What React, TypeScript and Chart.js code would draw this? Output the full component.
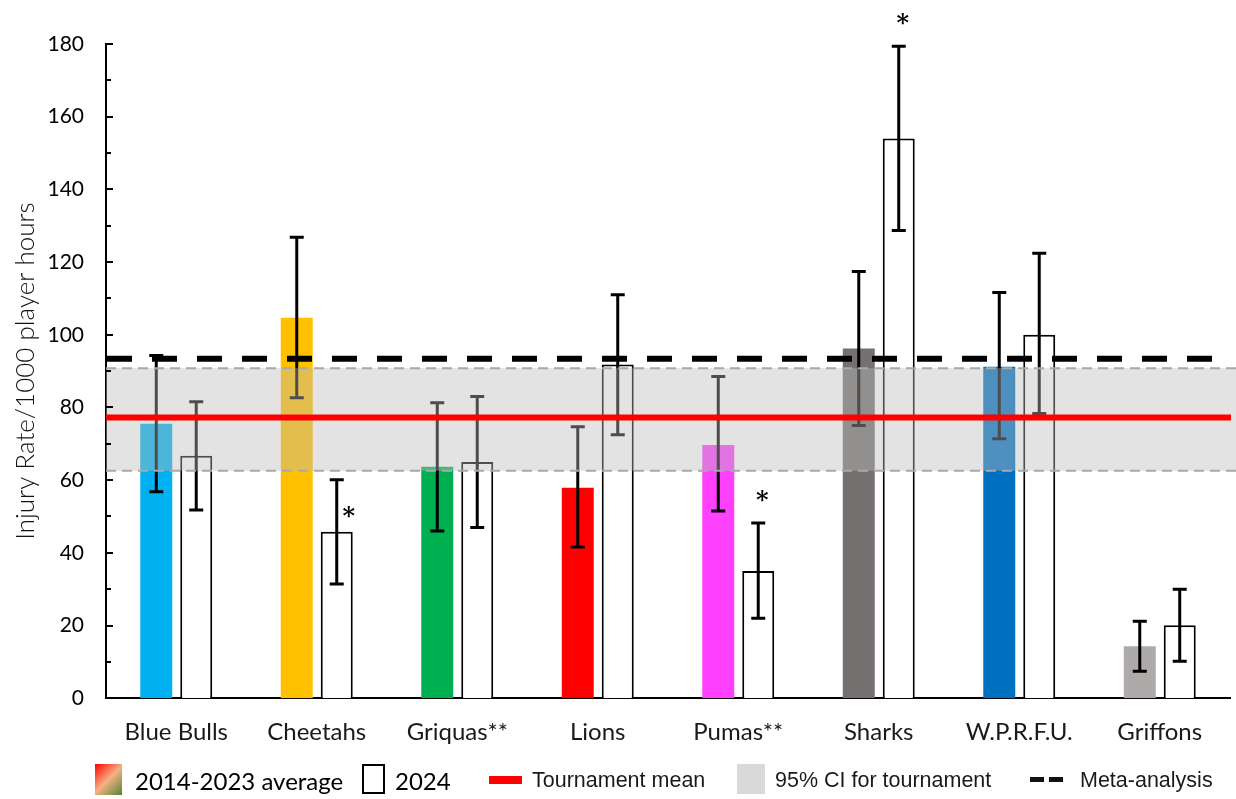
import React, { useEffect, useRef } from "react";
import { Chart, registerables } from "chart.js";

Chart.register(...registerables);

// Teams on the x axis
const teams = ["Blue Bulls", "Cheetahs", "Griquas**", "Lions", "Pumas**", "Sharks", "W.P.R.F.U.", "Griffons"];

// 2014-2023 average injury rate with 95% CI
const avgRates = [75.5, 104.7, 63.7, 57.9, 69.7, 96.2, 91.2, 14.3];
const avgLow = [56.8, 82.7, 46.0, 41.6, 51.5, 75.0, 71.4, 7.4];
const avgHigh = [94.3, 126.8, 81.3, 74.7, 88.5, 117.4, 111.6, 21.2];
const avgColors = ["#00b0f0", "#ffc000", "#00b050", "#ff0000", "#ff40ff", "#767171", "#0070c0", "#aeaaaa"];

// 2024 season injury rate with 95% CI
const rates2024 = [66.7, 45.8, 65.0, 91.8, 35.0, 154.0, 100.0, 20.1];
const low2024 = [51.8, 31.4, 47.0, 72.5, 22.0, 128.7, 78.3, 10.2];
const high2024 = [81.6, 60.1, 83.0, 111.0, 48.2, 179.4, 122.4, 30.0];

// Significant differences in 2024
const significance2024 = ["", "*", "", "", "*", "*", "", ""];

// Reference levels
const tournamentMean = 77.2;
const tournamentCiLow = 62.6;
const tournamentCiHigh = 90.8;
const metaAnalysisRate = 93.4;

// Y axis range
const yMin = 0;
const yMax = 180;
const yStep = 20;

const AXIS_FONT = "Lato, 'Open Sans', sans-serif";
const LEGEND_FONT = "'Liberation Sans', Arial, sans-serif";

const overlayPlugin = {
  id: "overlays",
  afterDatasetsDraw(chart: any) {
    const { ctx, chartArea } = chart;
    const y = chart.scales.y;
    const left = chartArea.left;

    // error bars
    const ranges = [
      [avgLow, avgHigh],
      [low2024, high2024],
    ];
    ranges.forEach(([lo, hi], di) => {
      const meta = chart.getDatasetMeta(di);
      meta.data.forEach((bar: any, i: number) => {
        const x = bar.x;
        const yLo = y.getPixelForValue(lo[i]);
        const yHi = y.getPixelForValue(hi[i]);
        ctx.save();
        ctx.strokeStyle = "#000";
        ctx.lineWidth = 3;
        ctx.beginPath();
        ctx.moveTo(x, yHi);
        ctx.lineTo(x, yLo);
        ctx.moveTo(x - 7, yHi);
        ctx.lineTo(x + 7, yHi);
        ctx.moveTo(x - 7, yLo);
        ctx.lineTo(x + 7, yLo);
        ctx.stroke();
        ctx.restore();
      });
    });

    // tournament 95% CI band
    const bandTop = y.getPixelForValue(tournamentCiHigh);
    const bandBottom = y.getPixelForValue(tournamentCiLow);
    ctx.save();
    ctx.fillStyle = "rgba(188,188,188,0.41)";
    ctx.fillRect(left, bandTop, chart.width - left, bandBottom - bandTop);
    ctx.strokeStyle = "#a9a9a9";
    ctx.lineWidth = 2;
    ctx.setLineDash([10, 6]);
    ctx.beginPath();
    ctx.moveTo(left, bandTop);
    ctx.lineTo(chart.width, bandTop);
    ctx.moveTo(left, bandBottom);
    ctx.lineTo(chart.width, bandBottom);
    ctx.stroke();
    ctx.restore();

    // tournament mean
    const meanY = y.getPixelForValue(tournamentMean);
    ctx.save();
    ctx.strokeStyle = "#ff0000";
    ctx.lineWidth = 6;
    ctx.beginPath();
    ctx.moveTo(left, meanY);
    ctx.lineTo(chartArea.right + 1, meanY);
    ctx.stroke();
    ctx.restore();

    // meta-analysis rate
    const metaY = y.getPixelForValue(metaAnalysisRate);
    ctx.save();
    ctx.strokeStyle = "#000";
    ctx.lineWidth = 6;
    ctx.setLineDash([25, 20]);
    ctx.beginPath();
    ctx.moveTo(left + 1, metaY);
    ctx.lineTo(chartArea.right - 3, metaY);
    ctx.stroke();
    ctx.restore();

    // significance markers
    const meta2024 = chart.getDatasetMeta(1);
    ctx.save();
    ctx.fillStyle = "#000";
    ctx.font = "bold 24px 'DejaVu Serif', serif";
    ctx.textAlign = "center";
    ctx.textBaseline = "middle";
    meta2024.data.forEach((bar: any, i: number) => {
      const mark = significance2024[i];
      if (!mark) return;
      const capY = y.getPixelForValue(high2024[i]);
      const topY = y.getPixelForValue(rates2024[i]);
      if (i === 1) {
        // beside the error bar, just above the bar top
        ctx.fillText(mark, bar.x + 12, topY - 14);
      } else {
        ctx.fillText(mark, bar.x + 4, capY - 21);
      }
    });
    ctx.restore();

    // inward tick marks on the y axis
    ctx.save();
    ctx.strokeStyle = "#000";
    ctx.lineWidth = 2;
    ctx.beginPath();
    y.ticks.forEach((t: any, idx: number) => {
      const py = Math.round(y.getPixelForValue(t.value));
      ctx.moveTo(left, py);
      ctx.lineTo(left + 7, py);
      if (idx < y.ticks.length - 1) {
        const mid = (t.value + y.ticks[idx + 1].value) / 2;
        const pm = Math.round(y.getPixelForValue(mid));
        ctx.moveTo(left, pm);
        ctx.lineTo(left + 5, pm);
      }
    });
    ctx.stroke();
    ctx.restore();
  },
};

const legendText: React.CSSProperties = {
  position: "absolute",
  top: 763,
  height: 34,
  display: "flex",
  alignItems: "center",
  whiteSpace: "nowrap",
};

export default function App() {
  const canvasRef = useRef<HTMLCanvasElement | null>(null);

  useEffect(() => {
    if (!canvasRef.current) return;
    const chart = new Chart(canvasRef.current, {
      type: "bar",
      data: {
        labels: teams,
        datasets: [
          {
            label: "2014-2023 average",
            data: avgRates,
            backgroundColor: avgColors,
            borderWidth: 0,
            categoryPercentage: 0.569,
            barPercentage: 0.8,
          },
          {
            label: "2024",
            data: rates2024,
            backgroundColor: "#ffffff",
            borderColor: "#000000",
            borderWidth: 2,
            categoryPercentage: 0.569,
            barPercentage: 0.8,
          },
        ],
      },
      options: {
        animation: false,
        responsive: false,
        devicePixelRatio: 1,
        layout: { padding: { top: 44, right: 6, bottom: 32, left: 10 } },
        plugins: {
          legend: { display: false },
          tooltip: { enabled: false },
        },
        scales: {
          x: {
            grid: { display: false, drawTicks: false },
            border: { display: true, color: "#000", width: 2 },
            ticks: {
              color: "#1a1a1a",
              padding: 20,
              font: { family: AXIS_FONT, size: 24 },
            },
          },
          y: {
            min: yMin,
            max: yMax,
            afterFit: (scale: any) => {
              scale.width = 96;
            },
            grid: { display: false, drawTicks: false },
            border: { display: true, color: "#000", width: 2 },
            ticks: {
              stepSize: yStep,
              color: "#000",
              padding: 22,
              font: { family: AXIS_FONT, size: 21 },
            },
            title: {
              display: true,
              text: "Injury Rate/1000 player hours",
              color: "#111",
              padding: { top: 0, bottom: 6 },
              font: { family: AXIS_FONT, size: 26, weight: "300" },
            },
          },
        },
      },
      plugins: [overlayPlugin],
    });
    return () => chart.destroy();
  }, []);

  return (
    <div
      style={{
        position: "absolute",
        left: 0,
        top: 0,
        width: 1236,
        height: 799,
        background: "#fff",
        overflow: "hidden",
        fontFamily: AXIS_FONT,
      }}
    >
      <canvas ref={canvasRef} width={1236} height={799} style={{ display: "block" }} />

      {/* legend */}
      <div
        style={{
          position: "absolute",
          left: 95,
          top: 764,
          width: 27,
          height: 31,
          background: "linear-gradient(135deg, #ff0000 0%, #f4b183 50%, #548235 100%)",
        }}
      />
      <div style={{ ...legendText, left: 135, fontSize: 24, color: "#000" }}>2014-2023 average</div>
      <div
        style={{
          position: "absolute",
          left: 362,
          top: 764,
          width: 19,
          height: 26,
          border: "2.5px solid #000",
        }}
      />
      <div style={{ ...legendText, left: 395, fontSize: 24, color: "#000" }}>2024</div>

      <div style={{ position: "absolute", left: 489, top: 776, width: 33, height: 8, background: "#ff0000" }} />
      <div style={{ ...legendText, left: 532, fontSize: 21.5, color: "#1a1a1a", fontFamily: LEGEND_FONT }}>
        Tournament mean
      </div>

      <div style={{ position: "absolute", left: 737, top: 764, width: 28, height: 30, background: "#d9d9d9" }} />
      <div style={{ ...legendText, left: 775, fontSize: 21.5, color: "#1a1a1a", fontFamily: LEGEND_FONT }}>
        95% CI for tournament
      </div>

      <div style={{ position: "absolute", left: 1030, top: 777, width: 14, height: 5, background: "#111" }} />
      <div style={{ position: "absolute", left: 1049, top: 777, width: 14, height: 5, background: "#111" }} />
      <div style={{ ...legendText, left: 1080, fontSize: 21.5, color: "#1a1a1a", fontFamily: LEGEND_FONT }}>
        Meta-analysis
      </div>
    </div>
  );
}
